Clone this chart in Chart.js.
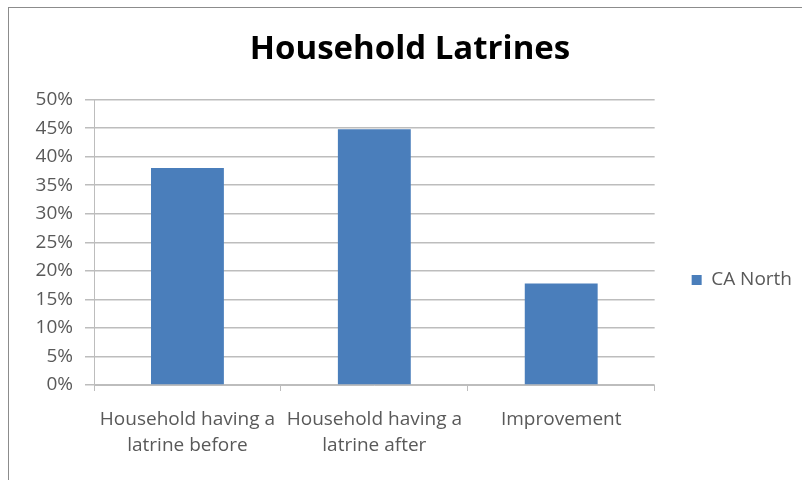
<!DOCTYPE html>
<html>
<head>
<meta charset="utf-8">
<script src="https://cdn.jsdelivr.net/npm/chart.js@4"></script>
<style>
  html, body { margin: 0; padding: 0; background: #fff; }
  #wrap { position: relative; width: 802px; height: 480px; overflow: hidden; }
  #frame { position: absolute; left: 8px; top: 7px; width: 820px; height: 500px; border: 1px solid #8c8c8c; box-sizing: border-box; }
  canvas { position: absolute; left: 0; top: 0; }
</style>
</head>
<body>
<div id="wrap">
  <div id="frame"></div>
  <canvas id="chart" width="802" height="480"></canvas>
</div>
<script>
// chart values
const categories = [
    ['Household having a', 'latrine before'],
    ['Household having a', 'latrine after'],
    'Improvement'
];
const seriesName = 'CA North';
const caNorth = [38.0, 44.8, 17.8];   // percent
const yTicks = [0, 5, 10, 15, 20, 25, 30, 35, 40, 45, 50];

const textGrey = '#595959';
const gridGrey = '#bdbdbd';
const labelFont = { family: 'Open Sans', size: 19 };

new Chart(document.getElementById('chart'), {
    type: 'bar',
    data: {
        labels: categories,
        datasets: [{
            label: seriesName,
            data: caNorth,
            backgroundColor: '#4a7ebb',
            borderWidth: 0,
            barPercentage: 0.39,
            categoryPercentage: 1.0
        }]
    },
    options: {
        responsive: false,
        animation: false,
        layout: { padding: { left: 18, right: 0, top: 10, bottom: 10 } },
        plugins: {
            title: {
                display: true,
                text: 'Household Latrines',
                color: '#000',
                font: { family: 'Open Sans', size: 33, weight: 'bold' },
                padding: { top: 20, bottom: 30 }
            },
            legend: {
                position: 'right',
                // empty title only pushes the legend item down
                title: { display: true, text: '', font: { size: 10 }, padding: { top: 0, bottom: 68 } },
                labels: {
                    boxWidth: 10,
                    boxHeight: 10,
                    padding: 37,
                    color: textGrey,
                    font: labelFont
                }
            },
            tooltip: { enabled: false }
        },
        scales: {
            x: {
                grid: { drawOnChartArea: false, drawTicks: true, tickLength: 6, color: gridGrey, offset: true },
                border: { color: gridGrey, width: 1 },
                ticks: { color: textGrey, font: { ...labelFont, lineHeight: 1.37 }, padding: 16, maxRotation: 0 },
                afterFit: (scale) => { scale.height = 85; }
            },
            y: {
                min: 0,
                max: 50,
                afterBuildTicks: (scale) => { scale.ticks = yTicks.map(v => ({ value: v })); },
                grid: { color: gridGrey, lineWidth: 1.5, tickLength: 9 },
                border: { color: gridGrey, width: 1 },
                ticks: {
                    color: textGrey,
                    font: labelFont,
                    padding: 12,
                    callback: (v) => v + '%'
                },
                afterFit: (scale) => { scale.width = 76; }
            }
        }
    }
});
</script>
</body>
</html>
